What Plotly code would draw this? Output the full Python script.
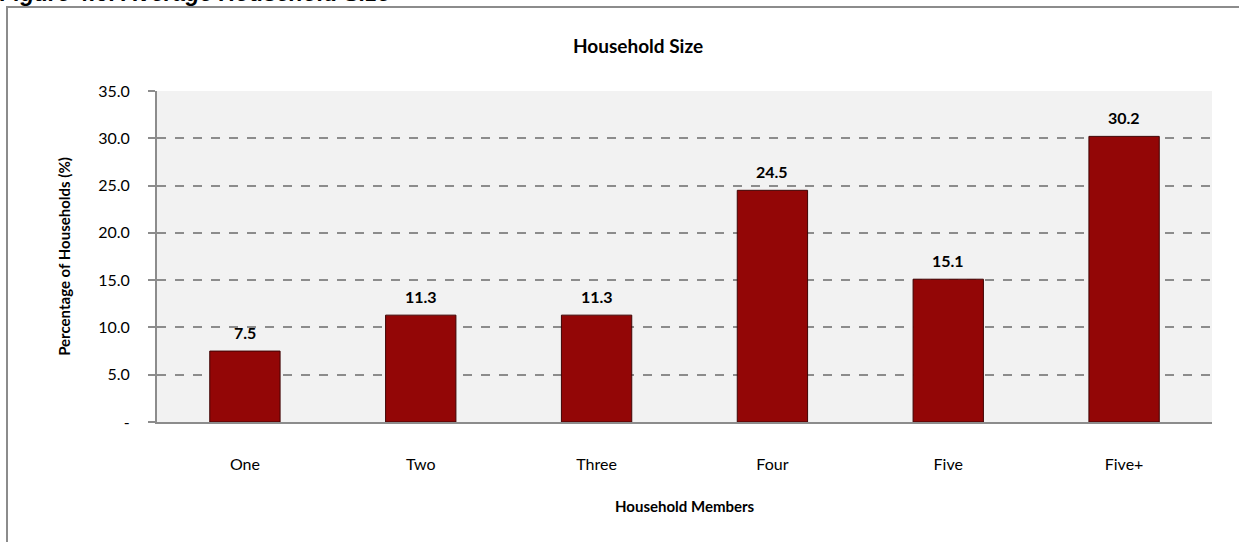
import plotly.graph_objects as go

# Household size distribution
categories = ["One", "Two", "Three", "Four", "Five", "Five+"]
percentages = [7.5, 11.3, 11.3, 24.5, 15.1, 30.2]
y_tick_values = [0, 5, 10, 15, 20, 25, 30, 35]
y_tick_labels = ["-", "5.0", "10.0", "15.0", "20.0", "25.0", "30.0", "35.0"]

W, H = 1239, 542
L, R, T, B = 157, 27, 91, 120
pw, ph = W - L - R, H - T - B


def px_x(px):
    return (px - L) / pw


def px_y(py):
    return (H - B - py) / ph


fig = go.Figure()
fig.add_trace(go.Bar(
    x=categories,
    y=percentages,
    width=0.4,
    marker=dict(color="#930606", line=dict(color="#3F0404", width=1)),
    hoverinfo="x+y",
))

# value labels above each bar
for c, v in zip(categories, percentages):
    fig.add_annotation(
        x=c, y=v, text=f"<b>{v:.1f}</b>", showarrow=False,
        yanchor="bottom", yshift=7,
        font=dict(family="Lato, Open Sans, sans-serif", size=16, color="#000000"),
    )

# chart title
fig.add_annotation(
    xref="paper", yref="paper", x=px_x(638), y=px_y(46),
    text="<b>Household Size</b>", showarrow=False,
    xanchor="center", yanchor="middle",
    font=dict(family="Lato, Open Sans, sans-serif", size=19, color="#000000"),
)

# x-axis title
fig.add_annotation(
    xref="paper", yref="paper", x=0.5, y=px_y(506),
    text="<b>Household Members</b>", showarrow=False,
    xanchor="center", yanchor="middle",
    font=dict(family="Lato, Open Sans, sans-serif", size=15, color="#000000"),
)

# figure caption along the top edge
fig.add_annotation(
    xref="paper", yref="paper", x=px_x(-2), y=px_y(-7),
    text="<b><i>Figure 4.6: Average Household Size</i></b>", showarrow=False,
    xanchor="left", yanchor="middle",
    font=dict(family="Liberation Sans, Arial, sans-serif", size=23, color="#000000"),
)

# outer chart frame
fig.add_shape(
    type="rect", xref="paper", yref="paper",
    x0=px_x(7), y0=px_y(600), x1=px_x(1260), y1=px_y(7),
    line=dict(color="#8C8C8C", width=2), fillcolor="rgba(0,0,0,0)", layer="below",
)

fig.update_layout(
    width=W, height=H,
    margin=dict(l=L, r=R, t=T, b=B),
    paper_bgcolor="#FFFFFF",
    plot_bgcolor="#F2F2F2",
    showlegend=False,
    font=dict(family="Lato, Open Sans, sans-serif", size=16, color="#000000"),
    bargap=0.6,
)

fig.update_xaxes(
    showline=True, linecolor="#8C8C8C", linewidth=2,
    showgrid=False, ticks="", ticklabelstandoff=27,
    tickfont=dict(size=16),
)

fig.update_yaxes(
    range=[0, 35], tickvals=y_tick_values, ticktext=y_tick_labels,
    showline=True, linecolor="#8C8C8C", linewidth=2,
    ticks="outside", ticklen=7, tickcolor="#8C8C8C", tickwidth=1.5,
    showgrid=True, gridcolor="#8C8C8C", griddash="dash", gridwidth=1.5,
    zeroline=False, ticklabelstandoff=15,
    tickfont=dict(size=16),
    title=dict(text="<b>Percentage of Households (%)</b>", font=dict(size=15), standoff=24),
)

fig.write_html("out.html")
